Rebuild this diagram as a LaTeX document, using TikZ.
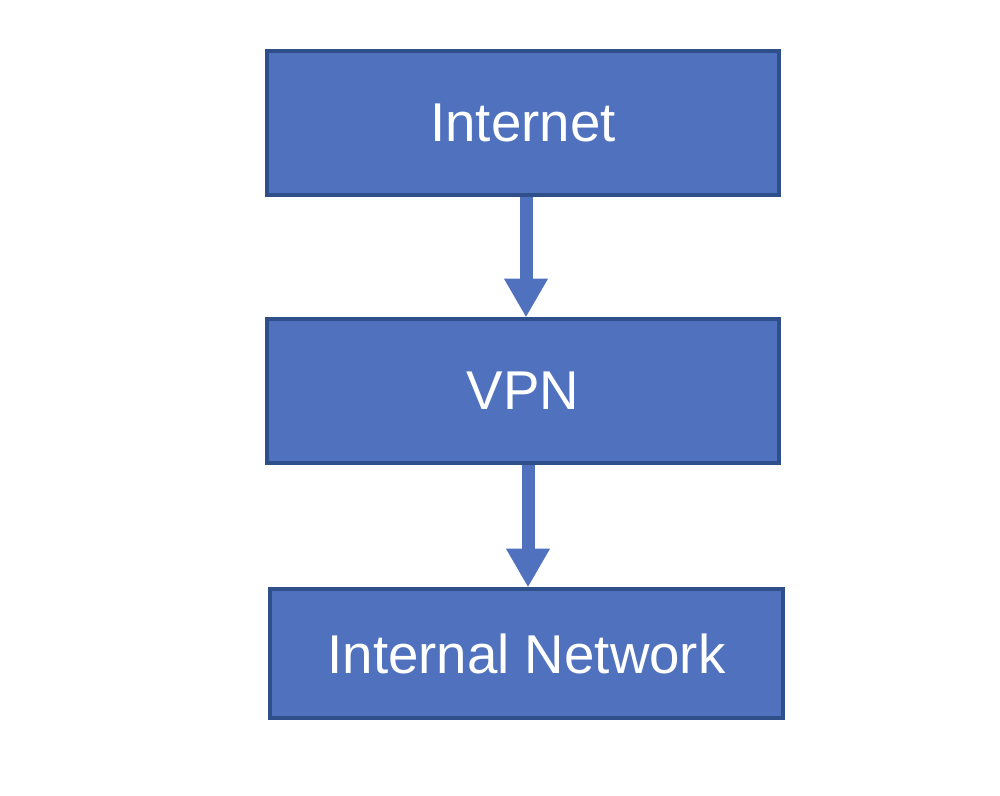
\documentclass[tikz,border=0pt]{standalone}
\usepackage{fontspec}
\setmainfont{Liberation Sans}
\usetikzlibrary{arrows.meta}
\definecolor{boxfill}{HTML}{4F71BE}
\definecolor{boxline}{HTML}{2F4F8A}
\begin{document}
\begin{tikzpicture}[x=0.75pt,y=-0.75pt,
  box/.style={draw=boxline,fill=boxfill,line width=2.4pt,text=white,
    font=\fontsize{41}{49}\selectfont,inner sep=0pt},
  conn/.style={draw=boxfill,line width=9.75pt,
    -{Triangle[width=30.75pt,length=29pt]}}]
\path[use as bounding box] (0,0) rectangle (1000,796);
\node[box,minimum width=512*0.75pt,minimum height=144*0.75pt] (inet) at (523,123) {Internet};
\node[box,minimum width=512*0.75pt,minimum height=144*0.75pt] (vpn) at (523,391) {VPN};
\node[box,minimum width=513*0.75pt,minimum height=129*0.75pt] (net) at (526.5,653.5) {Internal Network};
\draw[conn] ([xshift=3*0.75pt]inet.south) -- ([xshift=3*0.75pt]vpn.north);
\draw[conn] ([xshift=5*0.75pt]vpn.south) -- ([xshift=1.5*0.75pt]net.north);
\end{tikzpicture}
\end{document}
